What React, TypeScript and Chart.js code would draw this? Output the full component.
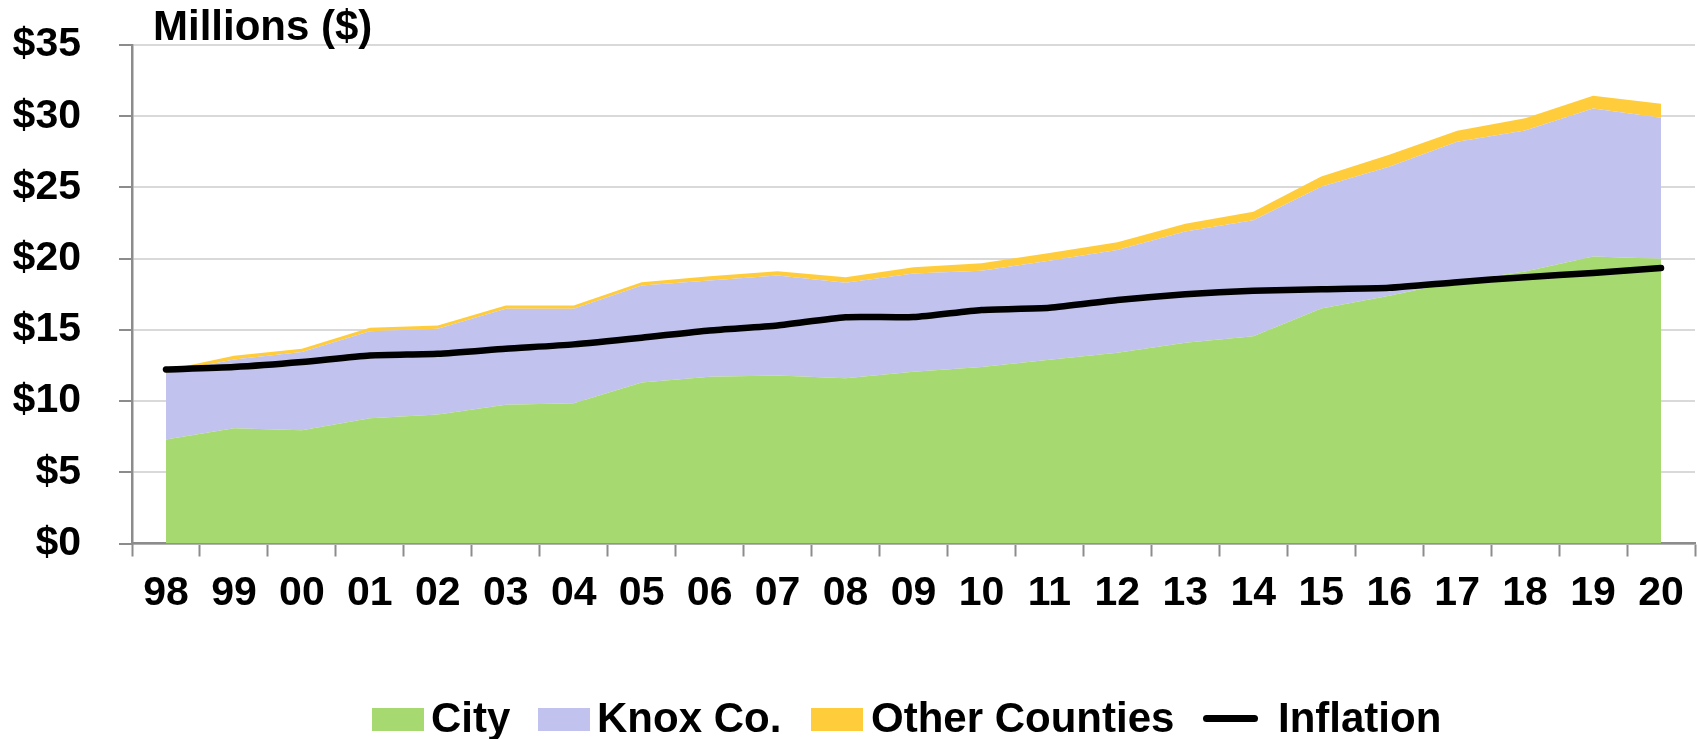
import React, { useEffect, useRef } from "react";
import { Chart, registerables } from "chart.js";

Chart.register(...registerables);

const years = ["98", "99", "00", "01", "02", "03", "04", "05", "06", "07", "08", "09", "10", "11", "12", "13", "14", "15", "16", "17", "18", "19", "20"];
const city = [7.3, 8.1, 7.95, 8.8, 9.05, 9.75, 9.85, 11.3, 11.7, 11.8, 11.6, 12.05, 12.4, 12.9, 13.4, 14.1, 14.55, 16.5, 17.4, 18.4, 19.1, 20.15, 20.0];
const knox = [4.67, 4.82, 5.49, 6.11, 6.03, 6.73, 6.63, 6.81, 6.76, 7.01, 6.7, 6.9, 6.75, 6.95, 7.2, 7.8, 8.15, 8.55, 9.05, 9.8, 9.9, 10.4, 9.9];
const otherCounties = [0.2, 0.26, 0.23, 0.24, 0.23, 0.23, 0.23, 0.24, 0.31, 0.31, 0.4, 0.45, 0.53, 0.55, 0.55, 0.55, 0.6, 0.72, 0.85, 0.78, 0.85, 0.88, 0.97];
const inflation = [12.22, 12.39, 12.74, 13.2, 13.32, 13.67, 13.98, 14.45, 14.96, 15.31, 15.89, 15.9, 16.4, 16.55, 17.1, 17.5, 17.75, 17.85, 17.95, 18.35, 18.7, 19.0, 19.35];
const yTicks = [0, 5, 10, 15, 20, 25, 30, 35];

const FONT = '"Liberation Sans", Arial, sans-serif';
const GREEN = "#a7d971";
const LAVENDER = "#c1c2ee";
const YELLOW = "#ffcd3c";
const AXIS_GRAY = "#8c8c8c";

const titlePlugin = {
  id: "unitTitle",
  afterDraw(chart: any) {
    const ctx = chart.ctx;
    ctx.save();
    ctx.font = `bold 42px ${FONT}`;
    ctx.fillStyle = "#000";
    ctx.textAlign = "left";
    ctx.textBaseline = "alphabetic";
    ctx.fillText("Millions ($)", chart.chartArea.left + 21, 40);
    ctx.restore();
  },
};

const legendItems = [
  { label: "City", color: GREEN, type: "box", boxX: 372, textX: 431 },
  { label: "Knox Co.", color: LAVENDER, type: "box", boxX: 538, textX: 597 },
  { label: "Other Counties", color: YELLOW, type: "box", boxX: 811, textX: 871 },
  { label: "Inflation", color: "#000", type: "line", boxX: 1203, textX: 1278 },
];

export default function App() {
  const ref = useRef<HTMLCanvasElement | null>(null);

  useEffect(() => {
    if (!ref.current) return;
    const chart = new Chart(ref.current, {
      type: "line",
      data: {
        labels: years,
        datasets: [
          {
            label: "City",
            data: city,
            backgroundColor: GREEN,
            borderColor: GREEN,
            borderWidth: 0,
            pointRadius: 0,
            fill: "origin",
            stack: "areas",
            order: 1,
          },
          {
            label: "Knox Co.",
            data: knox,
            backgroundColor: LAVENDER,
            borderColor: LAVENDER,
            borderWidth: 0,
            pointRadius: 0,
            fill: "-1",
            stack: "areas",
            order: 1,
          },
          {
            label: "Other Counties",
            data: otherCounties,
            backgroundColor: YELLOW,
            borderColor: YELLOW,
            borderWidth: 0,
            pointRadius: 0,
            fill: "-1",
            stack: "areas",
            order: 1,
          },
          {
            label: "Inflation",
            data: inflation,
            borderColor: "#000",
            backgroundColor: "#000",
            borderWidth: 6.5,
            borderCapStyle: "round",
            borderJoinStyle: "round",
            pointRadius: 0,
            fill: false,
            tension: 0.2,
            stack: "inflation",
            order: 0,
          },
        ],
      } as any,
      options: {
        responsive: false,
        animation: false,
        layout: { padding: { top: 45, right: 3, left: 0, bottom: 0 } },
        plugins: {
          legend: { display: false },
          tooltip: { enabled: false },
          title: { display: false },
        },
        scales: {
          x: {
            type: "category",
            offset: true,
            grid: {
              offset: true,
              drawOnChartArea: false,
              drawTicks: true,
              tickLength: 13,
              tickColor: AXIS_GRAY,
              tickWidth: 2,
            },
            border: { color: AXIS_GRAY, width: 2.5 },
            ticks: {
              color: "#000",
              font: { family: FONT, size: 41, weight: "bold" },
              padding: 13,
              maxRotation: 0,
              autoSkip: false,
            },
            afterFit(scale: any) {
              scale.height = 739 - 543.5;
              scale.paddingLeft = 0;
              scale.paddingRight = 0;
              scale.paddingTop = 0;
              scale.paddingBottom = 0;
            },
          },
          y: {
            stacked: true,
            min: 0,
            max: 35,
            afterBuildTicks(scale: any) {
              scale.ticks = yTicks.map((v) => ({ value: v }));
            },
            grid: {
              color: "#d9d9d9",
              lineWidth: 2,
              tickLength: 13,
              tickColor: AXIS_GRAY,
              tickWidth: 2,
            },
            border: { color: AXIS_GRAY, width: 2.5 },
            ticks: {
              color: "#000",
              font: { family: FONT, size: 41, weight: "bold" },
              padding: 38,
              callback: (v: any) => "$" + v,
            },
            afterFit(scale: any) {
              scale.width = 132;
              scale.paddingTop = 0;
              scale.paddingBottom = 0;
              scale.paddingLeft = 0;
              scale.paddingRight = 0;
            },
          },
        },
      } as any,
      plugins: [titlePlugin],
    });
    return () => chart.destroy();
  }, []);

  return (
    <div style={{ position: "fixed", left: 0, top: 0, width: 1698, height: 739, background: "#fff" }}>
      <canvas ref={ref} width={1698} height={739} style={{ display: "block", width: 1698, height: 739 }} />
      {legendItems.map((it) => (
        <React.Fragment key={it.label}>
          {it.type === "box" ? (
            <div
              style={{
                position: "absolute",
                left: it.boxX,
                top: 708,
                width: 52,
                height: 23,
                background: it.color,
              }}
            />
          ) : (
            <div
              style={{
                position: "absolute",
                left: it.boxX,
                top: 715,
                width: 55,
                height: 7,
                borderRadius: 3.5,
                background: it.color,
              }}
            />
          )}
          <div
            style={{
              position: "absolute",
              left: it.textX,
              top: 697,
              font: `bold 42px ${FONT}`,
              lineHeight: "42px",
              color: "#000",
              whiteSpace: "nowrap",
            }}
          >
            {it.label}
          </div>
        </React.Fragment>
      ))}
    </div>
  );
}
